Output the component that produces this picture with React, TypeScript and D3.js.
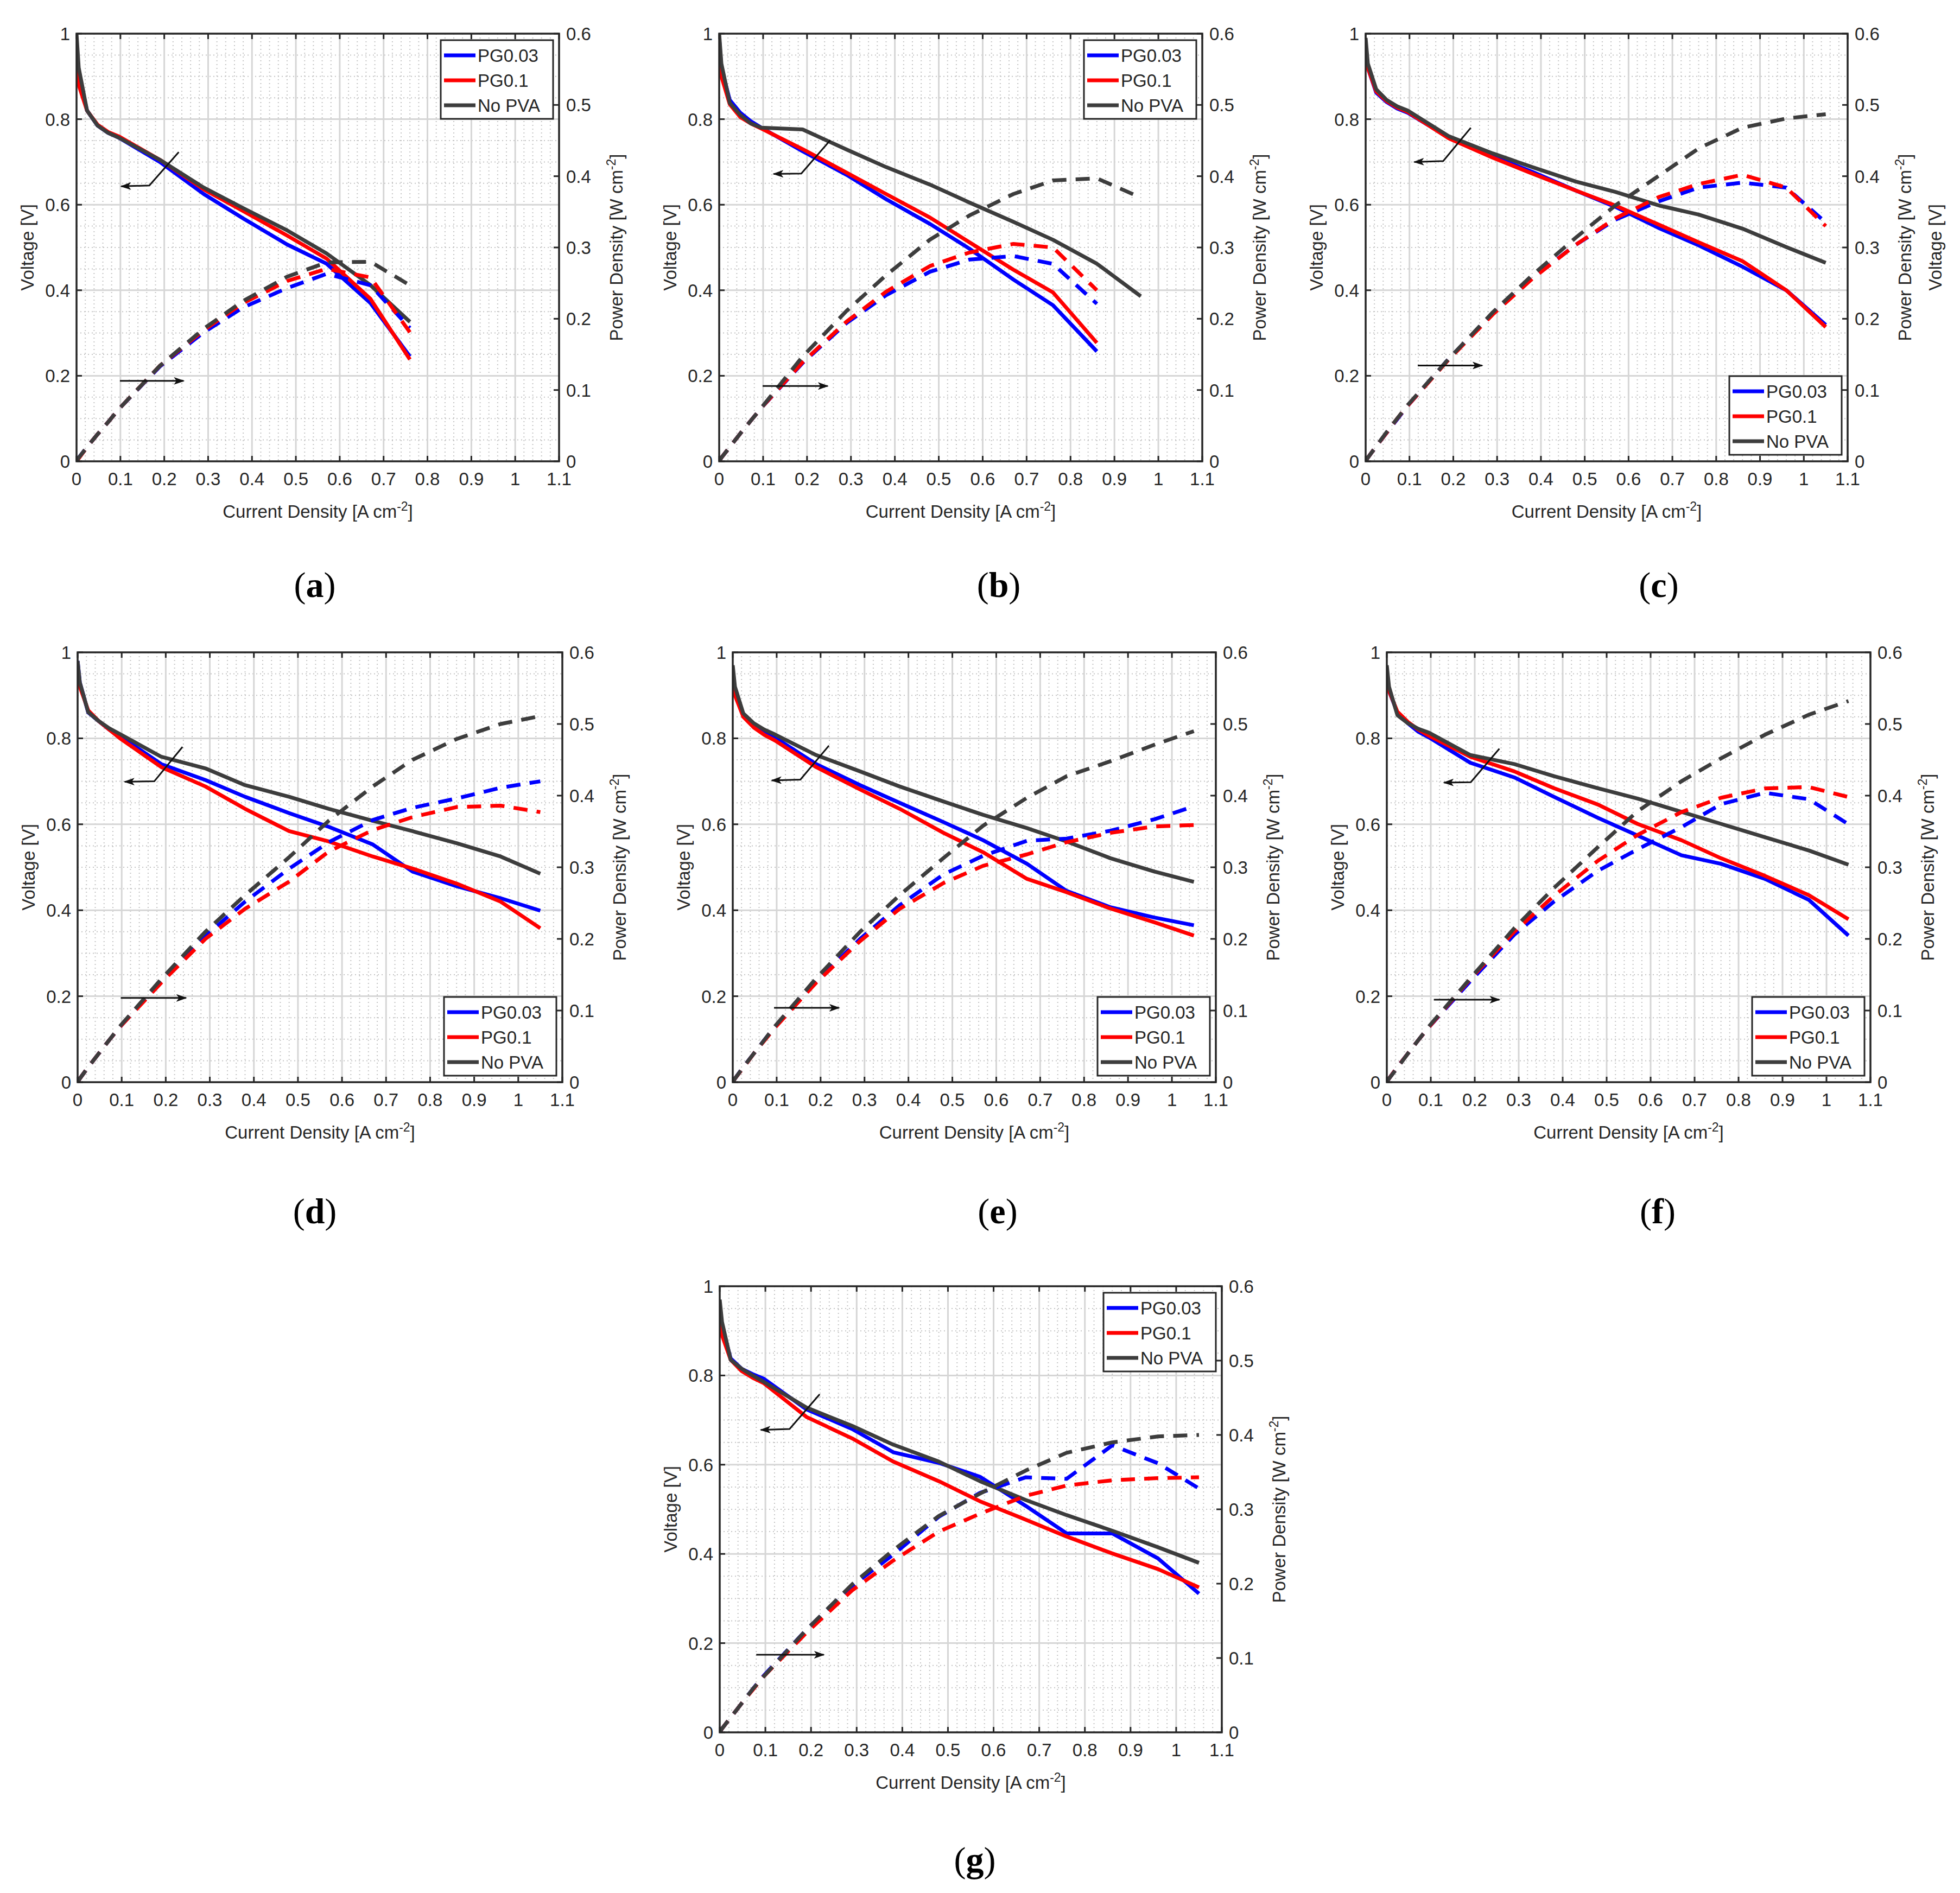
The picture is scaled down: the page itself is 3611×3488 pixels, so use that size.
import React from "react";
import * as d3 from "d3";

// ---------------- DATA ----------------
const CURRENT = [0, 0.005, 0.024, 0.048, 0.072, 0.096, 0.19, 0.29, 0.38, 0.48, 0.57, 0.67, 0.76, 0.86, 0.96, 1.05];
const SERIES_NAMES = ["PG0.03", "PG0.1", "No PVA"];
const SERIES_COLORS = ["#0000ff", "#ff0000", "#3d3d3d"];
const X_TICKS = [0, 0.1, 0.2, 0.3, 0.4, 0.5, 0.6, 0.7, 0.8, 0.9, 1, 1.1];
const V_TICKS = [0, 0.2, 0.4, 0.6, 0.8, 1];
const P_TICKS = [0, 0.1, 0.2, 0.3, 0.4, 0.5, 0.6];
const PANEL_LETTERS = ["a", "b", "c", "d", "e", "f", "g"];

// (a)
const V_A_PG003 = [0.97, 0.9, 0.82, 0.785, 0.768, 0.757, 0.7, 0.625, 0.568, 0.507, 0.462, 0.37, 0.245];
const V_A_PG01 = [0.95, 0.88, 0.82, 0.787, 0.77, 0.76, 0.705, 0.636, 0.585, 0.528, 0.474, 0.38, 0.238];
const V_A_NOPVA = [1.0, 0.92, 0.82, 0.785, 0.768, 0.757, 0.705, 0.64, 0.592, 0.54, 0.486, 0.412, 0.326];
const P_A_PG003 = [0, 0.005, 0.02, 0.038, 0.055, 0.073, 0.133, 0.181, 0.216, 0.243, 0.263, 0.247, 0.187];
const P_A_PG01 = [0, 0.004, 0.02, 0.038, 0.055, 0.073, 0.134, 0.184, 0.222, 0.253, 0.27, 0.258, 0.181];
const P_A_NOPVA = [0, 0.005, 0.02, 0.038, 0.055, 0.073, 0.134, 0.186, 0.225, 0.259, 0.279, 0.28, 0.247];

// (b)
const V_B_PG003 = [0.99, 0.92, 0.845, 0.815, 0.795, 0.78, 0.725, 0.67, 0.613, 0.555, 0.497, 0.425, 0.365, 0.257];
const V_B_PG01 = [0.93, 0.9, 0.835, 0.805, 0.79, 0.778, 0.73, 0.675, 0.625, 0.57, 0.512, 0.448, 0.395, 0.277];
const V_B_NOPVA = [1.0, 0.93, 0.838, 0.81, 0.79, 0.78, 0.776, 0.729, 0.688, 0.647, 0.605, 0.56, 0.518, 0.462, 0.386];
const P_B_PG003 = [0, 0.005, 0.02, 0.039, 0.057, 0.075, 0.138, 0.194, 0.233, 0.266, 0.283, 0.288, 0.277, 0.221];
const P_B_PG01 = [0, 0.005, 0.02, 0.039, 0.057, 0.075, 0.139, 0.196, 0.238, 0.274, 0.293, 0.305, 0.3, 0.24];
const P_B_NOPVA = [0, 0.005, 0.02, 0.039, 0.057, 0.075, 0.147, 0.211, 0.261, 0.311, 0.345, 0.375, 0.394, 0.397, 0.37];

// (c)
const V_C_PG003 = [0.96, 0.92, 0.862, 0.84, 0.825, 0.815, 0.757, 0.713, 0.677, 0.633, 0.595, 0.545, 0.505, 0.455, 0.4, 0.319];
const V_C_PG01 = [0.96, 0.92, 0.865, 0.842, 0.827, 0.817, 0.755, 0.71, 0.673, 0.633, 0.598, 0.553, 0.512, 0.468, 0.4, 0.314];
const V_C_NOPVA = [0.99, 0.93, 0.87, 0.845, 0.83, 0.82, 0.76, 0.72, 0.688, 0.654, 0.63, 0.598, 0.577, 0.544, 0.501, 0.464];
const P_C_PG003 = [0, 0.005, 0.021, 0.04, 0.059, 0.078, 0.144, 0.207, 0.257, 0.304, 0.339, 0.365, 0.384, 0.391, 0.384, 0.335];
const P_C_PG01 = [0, 0.005, 0.021, 0.04, 0.06, 0.078, 0.143, 0.206, 0.256, 0.304, 0.341, 0.371, 0.389, 0.402, 0.384, 0.33];
const P_C_NOPVA = [0, 0.005, 0.021, 0.041, 0.06, 0.079, 0.144, 0.209, 0.261, 0.314, 0.359, 0.401, 0.439, 0.468, 0.481, 0.487];

// (d)
const V_D_PG003 = [0.98, 0.93, 0.86, 0.84, 0.82, 0.805, 0.74, 0.703, 0.664, 0.626, 0.594, 0.553, 0.49, 0.456, 0.428, 0.399];
const V_D_PG01 = [0.95, 0.92, 0.865, 0.84, 0.82, 0.8, 0.733, 0.688, 0.636, 0.584, 0.56, 0.525, 0.497, 0.462, 0.42, 0.358];
const V_D_NOPVA = [0.98, 0.93, 0.861, 0.84, 0.823, 0.81, 0.757, 0.73, 0.691, 0.664, 0.636, 0.608, 0.584, 0.556, 0.525, 0.485];
const P_D_PG003 = [0, 0.005, 0.021, 0.04, 0.059, 0.077, 0.141, 0.204, 0.252, 0.298, 0.335, 0.366, 0.383, 0.396, 0.411, 0.42];
const P_D_PG01 = [0, 0.005, 0.021, 0.04, 0.059, 0.077, 0.139, 0.2, 0.242, 0.28, 0.322, 0.352, 0.37, 0.384, 0.386, 0.377];
const P_D_NOPVA = [0, 0.005, 0.021, 0.04, 0.059, 0.078, 0.144, 0.21, 0.261, 0.314, 0.365, 0.413, 0.45, 0.479, 0.5, 0.511];

// (e)
const V_E_PG003 = [0.95, 0.91, 0.855, 0.83, 0.815, 0.802, 0.74, 0.691, 0.65, 0.605, 0.563, 0.508, 0.445, 0.407, 0.383, 0.365];
const V_E_PG01 = [0.94, 0.9, 0.85, 0.825, 0.808, 0.795, 0.733, 0.681, 0.636, 0.58, 0.535, 0.473, 0.442, 0.404, 0.372, 0.341];
const V_E_NOPVA = [0.97, 0.92, 0.858, 0.835, 0.82, 0.809, 0.761, 0.723, 0.688, 0.653, 0.622, 0.591, 0.56, 0.521, 0.49, 0.466];
const P_E_PG003 = [0, 0.005, 0.021, 0.04, 0.059, 0.077, 0.141, 0.2, 0.247, 0.29, 0.316, 0.337, 0.34, 0.351, 0.367, 0.385];
const P_E_PG01 = [0, 0.005, 0.02, 0.04, 0.058, 0.076, 0.139, 0.197, 0.242, 0.278, 0.302, 0.318, 0.335, 0.348, 0.357, 0.359];
const P_E_NOPVA = [0, 0.005, 0.021, 0.04, 0.059, 0.078, 0.145, 0.21, 0.261, 0.313, 0.358, 0.397, 0.427, 0.448, 0.471, 0.49];

// (f)
const V_F_PG003 = [0.95, 0.91, 0.86, 0.835, 0.815, 0.802, 0.743, 0.709, 0.664, 0.615, 0.574, 0.528, 0.508, 0.473, 0.424, 0.341];
const V_F_PG01 = [0.95, 0.91, 0.862, 0.838, 0.82, 0.806, 0.757, 0.723, 0.684, 0.646, 0.601, 0.563, 0.521, 0.48, 0.435, 0.379];
const V_F_NOPVA = [0.97, 0.92, 0.854, 0.835, 0.822, 0.813, 0.761, 0.74, 0.712, 0.684, 0.66, 0.629, 0.601, 0.57, 0.539, 0.506];
const P_F_PG003 = [0, 0.005, 0.021, 0.04, 0.059, 0.077, 0.141, 0.206, 0.252, 0.295, 0.325, 0.356, 0.388, 0.404, 0.395, 0.36];
const P_F_PG01 = [0, 0.005, 0.021, 0.04, 0.059, 0.077, 0.144, 0.21, 0.26, 0.309, 0.345, 0.377, 0.397, 0.41, 0.412, 0.398];
const P_F_NOPVA = [0, 0.005, 0.02, 0.04, 0.059, 0.078, 0.145, 0.215, 0.271, 0.328, 0.378, 0.42, 0.452, 0.485, 0.513, 0.532];

// (g)
const V_G_PG003 = [0.95, 0.91, 0.838, 0.815, 0.803, 0.793, 0.724, 0.68, 0.628, 0.604, 0.573, 0.508, 0.446, 0.446, 0.39, 0.311];
const V_G_PG01 = [0.93, 0.89, 0.835, 0.81, 0.795, 0.783, 0.707, 0.659, 0.607, 0.563, 0.518, 0.477, 0.439, 0.401, 0.366, 0.325];
const V_G_NOPVA = [0.97, 0.92, 0.835, 0.815, 0.8, 0.786, 0.728, 0.687, 0.645, 0.607, 0.563, 0.521, 0.487, 0.452, 0.415, 0.38];
const P_G_PG003 = [0, 0.005, 0.02, 0.039, 0.058, 0.076, 0.138, 0.197, 0.239, 0.29, 0.322, 0.343, 0.341, 0.386, 0.362, 0.328];
const P_G_PG01 = [0, 0.005, 0.02, 0.039, 0.057, 0.075, 0.134, 0.191, 0.231, 0.27, 0.294, 0.318, 0.332, 0.339, 0.342, 0.343];
const P_G_NOPVA = [0, 0.005, 0.02, 0.039, 0.058, 0.075, 0.138, 0.199, 0.245, 0.291, 0.321, 0.352, 0.376, 0.39, 0.398, 0.4];

const VOLTAGES = [
  [V_A_PG003, V_A_PG01, V_A_NOPVA],
  [V_B_PG003, V_B_PG01, V_B_NOPVA],
  [V_C_PG003, V_C_PG01, V_C_NOPVA],
  [V_D_PG003, V_D_PG01, V_D_NOPVA],
  [V_E_PG003, V_E_PG01, V_E_NOPVA],
  [V_F_PG003, V_F_PG01, V_F_NOPVA],
  [V_G_PG003, V_G_PG01, V_G_NOPVA],
];
const POWERS = [
  [P_A_PG003, P_A_PG01, P_A_NOPVA],
  [P_B_PG003, P_B_PG01, P_B_NOPVA],
  [P_C_PG003, P_C_PG01, P_C_NOPVA],
  [P_D_PG003, P_D_PG01, P_D_NOPVA],
  [P_E_PG003, P_E_PG01, P_E_NOPVA],
  [P_F_PG003, P_F_PG01, P_F_NOPVA],
  [P_G_PG003, P_G_PG01, P_G_NOPVA],
];

// annotation arrows, in [current density, voltage]
const ARROW_LEFT = [
  [[0.233, 0.723], [0.166, 0.645], [0.102, 0.643]],
  [[0.253, 0.751], [0.187, 0.673], [0.124, 0.672]],
  [[0.24, 0.78], [0.177, 0.702], [0.111, 0.7]],
  [[0.238, 0.78], [0.174, 0.7], [0.107, 0.699]],
  [[0.219, 0.783], [0.154, 0.704], [0.089, 0.702]],
  [[0.256, 0.776], [0.191, 0.698], [0.13, 0.697]],
  [[0.219, 0.758], [0.153, 0.68], [0.09, 0.678]],
];
const ARROW_RIGHT = [
  [[0.099, 0.188], [0.244, 0.188]],
  [[0.099, 0.176], [0.247, 0.176]],
  [[0.119, 0.224], [0.266, 0.224]],
  [[0.098, 0.196], [0.246, 0.196]],
  [[0.094, 0.173], [0.242, 0.173]],
  [[0.107, 0.192], [0.256, 0.192]],
  [[0.08, 0.174], [0.228, 0.174]],
];

// ---------------- LAYOUT ----------------
const LAYOUT = [
  { l: 141, r: 1030, t: 62, b: 850, legend: "top", lx: 580, ly: 1100 },
  { l: 1325, r: 2215, t: 62, b: 850, legend: "top", lx: 1840, ly: 1100 },
  { l: 2516, r: 3404, t: 62, b: 850, legend: "bottom", lx: 3056, ly: 1100 },
  { l: 143, r: 1036, t: 1202, b: 1994, legend: "bottom", lx: 580, ly: 2254 },
  { l: 1350, r: 2240, t: 1202, b: 1994, legend: "bottom", lx: 1838, ly: 2254 },
  { l: 2555, r: 3446, t: 1202, b: 1994, legend: "bottom", lx: 3054, ly: 2254 },
  { l: 1326, r: 2251, t: 2370, b: 3192, legend: "top", lx: 1796, ly: 3449 },
];

const FONT = "'Liberation Sans', Arial, Helvetica, sans-serif";
const SERIF = "'Liberation Serif', 'Times New Roman', serif";
const INK = "#262626";
const FS = 33;

function fmt(v: number) {
  return String(+v.toFixed(2));
}

function Panel({ idx }: { idx: number }) {
  const L = LAYOUT[idx];
  const xs = d3.scaleLinear().domain([0, 1.1]).range([L.l, L.r]);
  const ys = d3.scaleLinear().domain([0, 1]).range([L.b, L.t]);
  const ps = d3.scaleLinear().domain([0, 0.6]).range([L.b, L.t]);
  const lineV = d3
    .line<[number, number]>()
    .x((d) => xs(d[0]))
    .y((d) => ys(d[1]));
  const lineP = d3
    .line<[number, number]>()
    .x((d) => xs(d[0]))
    .y((d) => ps(d[1]));
  const clipId = `clip-${idx}`;
  const tick = 10;

  const minorX = d3.range(0, 56).filter((i) => i % 5 !== 0).map((i) => i * 0.02);
  const majorX = d3.range(1, 11).map((i) => i * 0.1);
  const minorY = d3.range(0, 21).filter((i) => i % 4 !== 0).map((i) => i * 0.05);
  const majorY = d3.range(1, 5).map((i) => i * 0.2);

  const legW = 207;
  const legH = 145;
  const legX = L.r - 11 - legW;
  const legY = L.legend === "top" ? L.t + 12 : L.b - 12 - legH;
  const midY = (L.t + L.b) / 2;
  const midX = (L.l + L.r) / 2;

  const al = ARROW_LEFT[idx].map((p) => [xs(p[0]), ys(p[1])] as [number, number]);
  const ar = ARROW_RIGHT[idx].map((p) => [xs(p[0]), ys(p[1])] as [number, number]);

  return (
    <g>
      <defs>
        <clipPath id={clipId}>
          <rect x={L.l} y={L.t} width={L.r - L.l} height={L.b - L.t} />
        </clipPath>
      </defs>
      <rect x={L.l} y={L.t} width={L.r - L.l} height={L.b - L.t} fill="#ffffff" />
      {/* minor grid */}
      <g stroke="#c4c4c4" strokeWidth={2} strokeDasharray="2 5">
        {minorX.map((v, i) => (
          <line key={"mx" + i} x1={xs(v)} x2={xs(v)} y1={L.t} y2={L.b} />
        ))}
        {minorY.map((v, i) => (
          <line key={"my" + i} x1={L.l} x2={L.r} y1={ys(v)} y2={ys(v)} />
        ))}
      </g>
      {/* major grid */}
      <g stroke="#d6d6d6" strokeWidth={3}>
        {majorX.map((v, i) => (
          <line key={"Mx" + i} x1={xs(v)} x2={xs(v)} y1={L.t} y2={L.b} />
        ))}
        {majorY.map((v, i) => (
          <line key={"My" + i} x1={L.l} x2={L.r} y1={ys(v)} y2={ys(v)} />
        ))}
      </g>
      {/* data */}
      <g clipPath={`url(#${clipId})`} fill="none" strokeLinejoin="round">
        {VOLTAGES[idx].map((vals, k) => (
          <path
            key={"v" + k}
            d={lineV(vals.map((v, i) => [CURRENT[i], v] as [number, number])) || ""}
            stroke={SERIES_COLORS[k]}
            strokeWidth={7}
          />
        ))}
        {POWERS[idx].map((vals, k) => (
          <path
            key={"p" + k}
            d={lineP(vals.map((v, i) => [CURRENT[i], v] as [number, number])) || ""}
            stroke={SERIES_COLORS[k]}
            strokeWidth={7}
            strokeDasharray="26 17"
          />
        ))}
      </g>
      {/* annotation arrows */}
      <g stroke="#111" strokeWidth={3} fill="none">
        <polyline points={al.map((p) => p.join(",")).join(" ")} markerEnd="url(#arrowhead)" />
        <polyline points={ar.map((p) => p.join(",")).join(" ")} markerEnd="url(#arrowhead)" />
      </g>
      {/* axes box */}
      <rect x={L.l} y={L.t} width={L.r - L.l} height={L.b - L.t} fill="none" stroke={INK} strokeWidth={3.5} />
      {/* ticks */}
      <g stroke={INK} strokeWidth={3}>
        {X_TICKS.map((v, i) => (
          <g key={"xt" + i}>
            <line x1={xs(v)} x2={xs(v)} y1={L.b} y2={L.b - tick} />
            <line x1={xs(v)} x2={xs(v)} y1={L.t} y2={L.t + tick} />
          </g>
        ))}
        {V_TICKS.map((v, i) => (
          <line key={"vt" + i} x1={L.l} x2={L.l + tick} y1={ys(v)} y2={ys(v)} />
        ))}
        {P_TICKS.map((v, i) => (
          <line key={"pt" + i} x1={L.r} x2={L.r - tick} y1={ps(v)} y2={ps(v)} />
        ))}
      </g>
      <g fontFamily={FONT} fontSize={FS} fill={INK}>
        {X_TICKS.map((v, i) => (
          <text key={"xl" + i} x={xs(v)} y={L.b + 44} textAnchor="middle">
            {fmt(v)}
          </text>
        ))}
        {V_TICKS.map((v, i) => (
          <text key={"vl" + i} x={L.l - 12} y={ys(v) + 12} textAnchor="end">
            {fmt(v)}
          </text>
        ))}
        {P_TICKS.map((v, i) => (
          <text key={"pl" + i} x={L.r + 13} y={ps(v) + 12} textAnchor="start">
            {fmt(v)}
          </text>
        ))}
        <text x={midX} y={L.b + 104} textAnchor="middle">
          Current Density [A cm
          <tspan dy={-13} fontSize={23}>
            -2
          </tspan>
          <tspan dy={13}>]</tspan>
        </text>
        <text transform={`translate(${L.l - 79},${midY}) rotate(-90)`} textAnchor="middle">
          Voltage [V]
        </text>
        <text transform={`translate(${L.r + 117},${midY}) rotate(-90)`} textAnchor="middle">
          Power Density [W cm
          <tspan dy={-13} fontSize={23}>
            -2
          </tspan>
          <tspan dy={13}>]</tspan>
        </text>
      </g>
      {/* legend */}
      <g>
        <rect x={legX} y={legY} width={legW} height={legH} fill="#ffffff" stroke={INK} strokeWidth={3} />
        {SERIES_NAMES.map((name, k) => {
          const cy = legY + 28 + k * 46;
          return (
            <g key={"lg" + k}>
              <line x1={legX + 6} x2={legX + 64} y1={cy} y2={cy} stroke={SERIES_COLORS[k]} strokeWidth={7} />
              <text x={legX + 68} y={cy + 12} fontFamily={FONT} fontSize={FS} fill={INK}>
                {name}
              </text>
            </g>
          );
        })}
      </g>
      {/* panel label */}
      <text x={L.lx} y={L.ly} textAnchor="middle" fontFamily={SERIF} fontSize={66} fill="#000">
        (<tspan fontWeight="bold">{PANEL_LETTERS[idx]}</tspan>)
      </text>
    </g>
  );
}

export default function App() {
  return (
    <svg
      width={3611}
      height={3488}
      viewBox="0 0 3611 3488"
      style={{ position: "absolute", left: 0, top: 0, display: "block", background: "#ffffff" }}
    >
      <defs>
        <marker
          id="arrowhead"
          markerUnits="userSpaceOnUse"
          markerWidth={20}
          markerHeight={14}
          refX={18}
          refY={7}
          orient="auto"
        >
          <path d="M0,0 L20,7 L0,14 L5,7 Z" fill="#111" />
        </marker>
      </defs>
      <rect x={0} y={0} width={3611} height={3488} fill="#ffffff" />
      {LAYOUT.map((_, i) => (
        <Panel key={i} idx={i} />
      ))}
      {/* stray axis label visible at the right edge of panel (c) */}
      <text
        transform={`translate(${3577},${456}) rotate(-90)`}
        textAnchor="middle"
        fontFamily={FONT}
        fontSize={FS}
        fill={INK}
      >
        Voltage [V]
      </text>
    </svg>
  );
}
